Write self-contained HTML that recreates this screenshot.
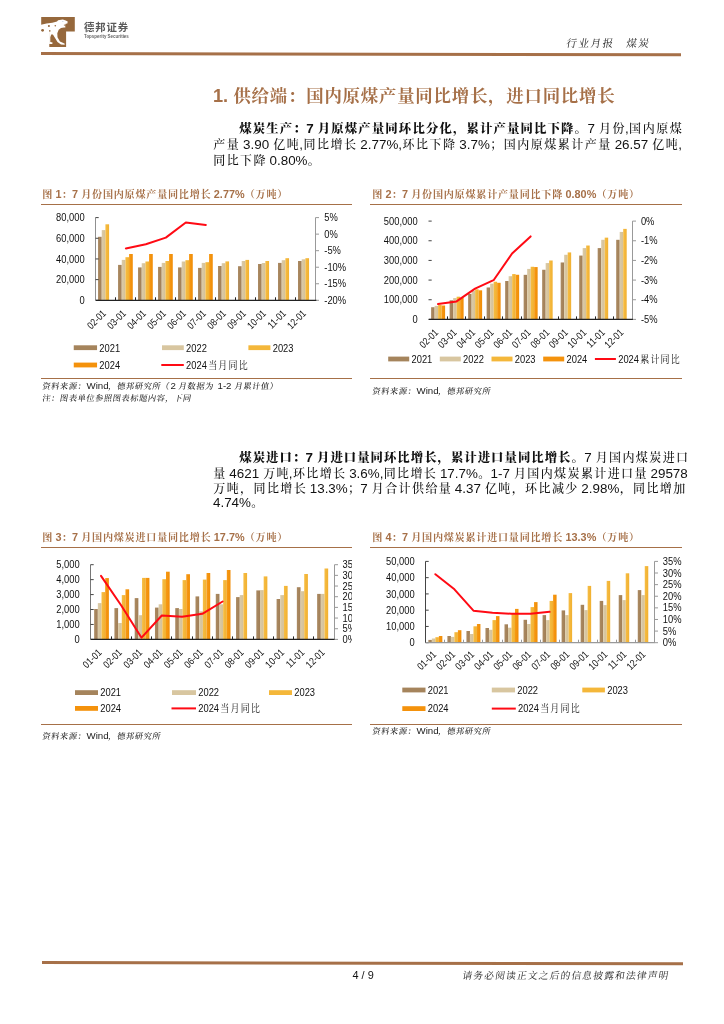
<!DOCTYPE html>
<html lang="zh-CN">
<head>
<meta charset="utf-8">
<title>德邦证券 行业月报 煤炭</title>
<style>
html,body{margin:0;padding:0;background:#fff;}
body{width:724px;height:1024px;position:relative;overflow:hidden;font-family:"Liberation Sans","Noto Serif CJK SC",serif;color:#111;}
.abs{position:absolute;white-space:nowrap;}
.charts{position:absolute;left:0;top:0;}
.logo{position:absolute;left:41px;top:17px;}
.hr{position:absolute;background:#a67048;}
.brand{left:84px;top:20.5px;font-family:"Liberation Sans","Noto Sans CJK SC",sans-serif;font-weight:bold;font-size:10.4px;letter-spacing:0.9px;color:#5a5a5a;line-height:14px;}
.brand2{left:84px;top:34px;font-family:"Liberation Sans",sans-serif;font-size:4.45px;font-weight:bold;color:#666;line-height:6px;letter-spacing:0;}
.hdr{left:566.3px;top:35px;font-size:11.3px;word-spacing:0.75px;line-height:16px;transform:skewX(-9deg);transform-origin:0 70%;color:#222;}
.h1{left:213px;top:84px;font-size:18.2px;font-weight:bold;color:#a67048;line-height:24px;}
.p{left:213px;width:469px;font-size:13.4px;line-height:16px;text-align:justify;text-align-last:justify;color:#111;}
.p.last{text-align:left;text-align-last:left;}
.p b{font-weight:bold;}
.src .k{font-size:8.2px;letter-spacing:0.6px;}
.hdr .k{font-size:10.6px;letter-spacing:1.45px;}
.ft .k{font-size:9.8px;letter-spacing:1.1px;}
.ct .k{font-size:10.1px;letter-spacing:0.75px;margin-left:0.2px;margin-right:-0.55px;}
.h1 .k{font-size:17.4px;letter-spacing:0.8px;margin-left:0.2px;margin-right:-0.6px;}
.p .k{font-weight:500;font-size:12px;letter-spacing:1.4px;position:relative;top:-0.1px;margin-left:0.3px;margin-right:-1.1px;}
.p b .k{font-weight:900;font-size:12.4px;letter-spacing:1px;top:0px;margin-left:0.3px;margin-right:-0.7px;}
.ct{font-size:10.85px;font-weight:bold;color:#a67048;line-height:14px;}
.src{font-size:8.8px;word-spacing:0.9px;line-height:12px;transform:skewX(-9deg);transform-origin:0 70%;font-weight:500;color:#1a1a1a;}
.src i{display:inline-block;transform:skewX(9deg);font-style:normal;font-weight:400;font-size:9.7px;}
.ft{font-size:10.3px;line-height:14px;transform:skewX(-9deg);transform-origin:0 70%;color:#222;}
.pg{font-size:10.9px;line-height:14px;color:#111;}
</style>
</head>
<body>
<svg class="logo" width="36" height="32" viewBox="0 0 36 32">
<path d="M0.2 0h33.6v14.5h-8.7v15.4h-16.8v-15.4h-8.1z" fill="#96683c"/>
<path d="M0 7.8 L5.5 6.4 L11.3 5.8 L16 4.6 L17.1 3.2 L21.8 2.6 L24.7 3.5 L26.7 4.6 L26.4 6.4 L24.7 6.7 L24.1 8.1 L24.4 10.4 L23 10.4 L20 11 L17.7 12.8 L16.3 16.2 L16.5 20.3 L18.9 24.4 L22.3 26.1 L23.8 26.7 L23.5 27.8 L20 27.6 L16.5 25 L13.6 20.3 L11.9 17.4 L10.2 17.4 L9.3 20.3 L9.3 25 L11.6 25.5 L11.3 27 L8.1 27 L8.1 15.2 L-1 15.2 L-1 7.8 Z" fill="#fff"/>
<circle cx="1.6" cy="13.3" r="1.4" fill="#96683c"/>
<circle cx="7.9" cy="9" r="1.05" fill="#96683c"/>
<circle cx="14.3" cy="8.7" r="0.8" fill="#96683c"/>
<circle cx="8.8" cy="13.9" r="0.8" fill="#96683c"/>
<circle cx="23.4" cy="8.1" r="0.6" fill="#96683c"/>
<ellipse cx="21.8" cy="4.5" rx="0.9" ry="0.35" fill="#9bb0c8"/>
</svg>
<div class="abs brand">德邦证券</div>
<div class="abs brand2">Topsperity Securities</div>
<div class="abs hdr"><span class="k">行业月报</span>&nbsp;&nbsp;&nbsp;<span class="k">煤炭</span></div>
<div class="hr" style="left:41px;top:52.3px;width:640.3px;height:2.6px;transform-origin:0 50%;transform:rotate(0.121deg);"></div>

<div class="abs h1">1. <span class="k">供给端：国内原煤产量同比增长，进口同比增长</span></div>

<div class="abs p" style="top:121.1px;left:239px;width:443px;"><b><span class="k">煤炭生产：</span>7 <span class="k">月原煤产量同环比分化，累计产量同比下降。</span></b>7 <span class="k">月份</span>,<span class="k">国内原煤</span></div>
<div class="abs p" style="top:137.0px;"><span class="k">产量</span> 3.90 <span class="k">亿吨</span>,<span class="k">同比增长</span> 2.77%,<span class="k">环比下降</span> 3.7%<span class="k">；国内原煤累计产量</span> 26.57 <span class="k">亿吨</span>,</div>
<div class="abs p last" style="top:152.7px;"><span class="k">同比下降</span> 0.80%<span class="k">。</span></div>

<div class="abs ct" style="left:42px;top:186.5px;"><span class="k">图</span> 1<span class="k">：</span>7 <span class="k">月份国内原煤产量同比增长</span> 2.77%<span class="k">（万吨）</span></div>
<div class="hr" style="left:41px;top:203.7px;width:310.7px;height:1.2px;"></div>
<div class="abs ct" style="left:372px;top:186.5px;"><span class="k">图</span> 2<span class="k">：</span>7 <span class="k">月份国内原煤累计产量同比下降</span> 0.80%<span class="k">（万吨）</span></div>
<div class="hr" style="left:370.2px;top:203.7px;width:311.8px;height:1.2px;"></div>

<div class="hr" style="left:41px;top:378px;width:310.7px;height:1.2px;"></div>
<div class="abs src" style="left:41.5px;top:380px;"><span class="k">资料来源：</span><i>Wind</i><span class="k">，德邦研究所（</span><i>2</i> <span class="k">月数据为</span> <i>1-2</i> <span class="k">月累计值）</span></div>
<div class="abs src" style="left:41.5px;top:391.5px;"><span class="k">注：图表单位参照图表标题内容，下同</span></div>
<div class="hr" style="left:370.2px;top:378px;width:311.8px;height:1.2px;"></div>
<div class="abs src" style="left:372px;top:385px;"><span class="k">资料来源：</span><i>Wind</i><span class="k">，德邦研究所</span></div>

<div class="abs p" style="top:450.1px;left:239px;width:443px;"><b><span class="k">煤炭进口：</span>7 <span class="k">月进口量同环比增长，累计进口量同比增长。</span></b>7 <span class="k">月国内煤炭进口</span></div>
<div class="abs p" style="top:465.9px;"><span class="k">量</span> 4621 <span class="k">万吨</span>,<span class="k">环比增长</span> 3.6%,<span class="k">同比增长</span> 17.7%<span class="k">。</span>1-7 <span class="k">月国内煤炭累计进口量</span> 29578</div>
<div class="abs p" style="top:481.3px;"><span class="k">万吨，同比增长</span> 13.3%<span class="k">；</span>7 <span class="k">月合计供给量</span> 4.37 <span class="k">亿吨，环比减少</span> 2.98%<span class="k">，同比增加</span></div>
<div class="abs p last" style="top:495.4px;">4.74%<span class="k">。</span></div>

<div class="abs ct" style="left:42px;top:530px;"><span class="k">图</span> 3<span class="k">：</span>7 <span class="k">月国内煤炭进口量同比增长</span> 17.7%<span class="k">（万吨）</span></div>
<div class="hr" style="left:41px;top:547.0px;width:310.7px;height:1.3px;"></div>
<div class="abs ct" style="left:372px;top:530px;"><span class="k">图</span> 4<span class="k">：</span>7 <span class="k">月国内煤炭累计进口量同比增长</span> 13.3%<span class="k">（万吨）</span></div>
<div class="hr" style="left:370.2px;top:547.0px;width:311.8px;height:1.3px;"></div>

<div class="hr" style="left:41px;top:723.8px;width:310.7px;height:1.3px;"></div>
<div class="abs src" style="left:41.5px;top:730.3px;"><span class="k">资料来源：</span><i>Wind</i><span class="k">，德邦研究所</span></div>
<div class="hr" style="left:370.2px;top:723.7px;width:311.8px;height:1.3px;"></div>
<div class="abs src" style="left:372px;top:725.4px;"><span class="k">资料来源：</span><i>Wind</i><span class="k">，德邦研究所</span></div>

<svg class="charts" width="724" height="1024" viewBox="0 0 724 1024" font-family="'Liberation Sans', 'Noto Serif CJK SC', sans-serif" fill="#111">
<defs>
<linearGradient id="g0" x1="0" x2="1" y1="0" y2="0"><stop offset="0" stop-color="#ab8a62"/><stop offset="1" stop-color="#a07e56"/></linearGradient>
<linearGradient id="g1" x1="0" x2="1" y1="0" y2="0"><stop offset="0" stop-color="#dccba7"/><stop offset="1" stop-color="#d3c098"/></linearGradient>
<linearGradient id="g2" x1="0" x2="1" y1="0" y2="0"><stop offset="0" stop-color="#f6bd44"/><stop offset="1" stop-color="#f1b030"/></linearGradient>
<linearGradient id="g3" x1="0" x2="1" y1="0" y2="0"><stop offset="0" stop-color="#f79a14"/><stop offset="1" stop-color="#f08c06"/></linearGradient>
<clipPath id="clip3"><rect x="336" y="550" width="15.9" height="100"/></clipPath>
</defs>
<rect x="98.05" y="236.8" width="3.68" height="63.5" fill="url(#g0)"/>
<rect x="101.73" y="230.1" width="3.68" height="70.2" fill="url(#g1)"/>
<rect x="105.41" y="224.3" width="3.68" height="76" fill="url(#g2)"/>
<rect x="118.05" y="264.9" width="3.68" height="35.4" fill="url(#g0)"/>
<rect x="121.73" y="259.9" width="3.68" height="40.4" fill="url(#g1)"/>
<rect x="125.41" y="257.2" width="3.68" height="43.1" fill="url(#g2)"/>
<rect x="129.09" y="254" width="3.68" height="46.3" fill="url(#g3)"/>
<rect x="138.04" y="267.4" width="3.68" height="32.9" fill="url(#g0)"/>
<rect x="141.72" y="263.2" width="3.68" height="37.1" fill="url(#g1)"/>
<rect x="145.4" y="261.5" width="3.68" height="38.8" fill="url(#g2)"/>
<rect x="149.08" y="254" width="3.68" height="46.3" fill="url(#g3)"/>
<rect x="158.04" y="266.9" width="3.68" height="33.4" fill="url(#g0)"/>
<rect x="161.72" y="262.9" width="3.68" height="37.4" fill="url(#g1)"/>
<rect x="165.4" y="261" width="3.68" height="39.3" fill="url(#g2)"/>
<rect x="169.08" y="254" width="3.68" height="46.3" fill="url(#g3)"/>
<rect x="178.03" y="267.4" width="3.68" height="32.9" fill="url(#g0)"/>
<rect x="181.71" y="261.5" width="3.68" height="38.8" fill="url(#g1)"/>
<rect x="185.39" y="260.2" width="3.68" height="40.1" fill="url(#g2)"/>
<rect x="189.07" y="254" width="3.68" height="46.3" fill="url(#g3)"/>
<rect x="198.03" y="267.9" width="3.68" height="32.4" fill="url(#g0)"/>
<rect x="201.71" y="262.9" width="3.68" height="37.4" fill="url(#g1)"/>
<rect x="205.39" y="262.2" width="3.68" height="38.1" fill="url(#g2)"/>
<rect x="209.07" y="254" width="3.68" height="46.3" fill="url(#g3)"/>
<rect x="218.02" y="266" width="3.68" height="34.3" fill="url(#g0)"/>
<rect x="221.7" y="263.2" width="3.68" height="37.1" fill="url(#g1)"/>
<rect x="225.38" y="261.4" width="3.68" height="38.9" fill="url(#g2)"/>
<rect x="238.02" y="266.2" width="3.68" height="34.1" fill="url(#g0)"/>
<rect x="241.7" y="261" width="3.68" height="39.3" fill="url(#g1)"/>
<rect x="245.38" y="259.9" width="3.68" height="40.4" fill="url(#g2)"/>
<rect x="258.01" y="264" width="3.68" height="36.3" fill="url(#g0)"/>
<rect x="261.69" y="263" width="3.68" height="37.3" fill="url(#g1)"/>
<rect x="265.37" y="261" width="3.68" height="39.3" fill="url(#g2)"/>
<rect x="278.01" y="262.9" width="3.68" height="37.4" fill="url(#g0)"/>
<rect x="281.69" y="260.2" width="3.68" height="40.1" fill="url(#g1)"/>
<rect x="285.37" y="258.2" width="3.68" height="42.1" fill="url(#g2)"/>
<rect x="298" y="261" width="3.68" height="39.3" fill="url(#g0)"/>
<rect x="301.68" y="259.3" width="3.68" height="41" fill="url(#g1)"/>
<rect x="305.36" y="258.2" width="3.68" height="42.1" fill="url(#g2)"/>
<line x1="95.5" y1="217.6" x2="95.5" y2="300.3" stroke="#909090" stroke-width="1"/>
<line x1="315.5" y1="217.6" x2="315.5" y2="300.3" stroke="#999" stroke-width="1"/>
<line x1="95.5" y1="217.6" x2="98.7" y2="217.6" stroke="#444" stroke-width="1"/>
<text transform="translate(84.65 221.2) scale(0.85 1)" text-anchor="end" font-size="11">80,000</text>
<line x1="95.5" y1="238.28" x2="98.7" y2="238.28" stroke="#444" stroke-width="1"/>
<text transform="translate(84.65 241.88) scale(0.85 1)" text-anchor="end" font-size="11">60,000</text>
<line x1="95.5" y1="258.95" x2="98.7" y2="258.95" stroke="#444" stroke-width="1"/>
<text transform="translate(84.65 262.55) scale(0.85 1)" text-anchor="end" font-size="11">40,000</text>
<line x1="95.5" y1="279.62" x2="98.7" y2="279.62" stroke="#444" stroke-width="1"/>
<text transform="translate(84.65 283.23) scale(0.85 1)" text-anchor="end" font-size="11">20,000</text>
<line x1="95.5" y1="300.3" x2="98.7" y2="300.3" stroke="#444" stroke-width="1"/>
<text transform="translate(84.65 303.9) scale(0.85 1)" text-anchor="end" font-size="11">0</text>
<line x1="315.5" y1="217.6" x2="319" y2="217.6" stroke="#999" stroke-width="1"/>
<line x1="315.5" y1="234.14" x2="319" y2="234.14" stroke="#999" stroke-width="1"/>
<line x1="315.5" y1="250.68" x2="319" y2="250.68" stroke="#999" stroke-width="1"/>
<line x1="315.5" y1="267.22" x2="319" y2="267.22" stroke="#999" stroke-width="1"/>
<line x1="315.5" y1="283.76" x2="319" y2="283.76" stroke="#999" stroke-width="1"/>
<line x1="315.5" y1="300.3" x2="319" y2="300.3" stroke="#999" stroke-width="1"/>
<text transform="translate(324.3 221.2) scale(0.85 1)" text-anchor="start" font-size="11">5%</text>
<text transform="translate(324.3 237.74) scale(0.85 1)" text-anchor="start" font-size="11">0%</text>
<text transform="translate(324.3 254.28) scale(0.85 1)" text-anchor="start" font-size="11">-5%</text>
<text transform="translate(324.3 270.82) scale(0.85 1)" text-anchor="start" font-size="11">-10%</text>
<text transform="translate(324.3 287.36) scale(0.85 1)" text-anchor="start" font-size="11">-15%</text>
<text transform="translate(324.3 303.9) scale(0.85 1)" text-anchor="start" font-size="11">-20%</text>
<line x1="95.85" y1="300.3" x2="316.3" y2="300.3" stroke="#222" stroke-width="1.2"/>
<line x1="115.5" y1="297.3" x2="115.5" y2="300.3" stroke="#222" stroke-width="1"/>
<line x1="135.5" y1="297.3" x2="135.5" y2="300.3" stroke="#222" stroke-width="1"/>
<line x1="155.5" y1="297.3" x2="155.5" y2="300.3" stroke="#222" stroke-width="1"/>
<line x1="175.5" y1="297.3" x2="175.5" y2="300.3" stroke="#222" stroke-width="1"/>
<line x1="195.5" y1="297.3" x2="195.5" y2="300.3" stroke="#222" stroke-width="1"/>
<line x1="215.5" y1="297.3" x2="215.5" y2="300.3" stroke="#222" stroke-width="1"/>
<line x1="235.5" y1="297.3" x2="235.5" y2="300.3" stroke="#222" stroke-width="1"/>
<line x1="255.5" y1="297.3" x2="255.5" y2="300.3" stroke="#222" stroke-width="1"/>
<line x1="275.5" y1="297.3" x2="275.5" y2="300.3" stroke="#222" stroke-width="1"/>
<line x1="295.5" y1="297.3" x2="295.5" y2="300.3" stroke="#222" stroke-width="1"/>
<text transform="translate(106.75 314.1) rotate(-45) scale(0.85 1)" text-anchor="end" font-size="10.12">02-01</text>
<text transform="translate(126.74 314.1) rotate(-45) scale(0.85 1)" text-anchor="end" font-size="10.12">03-01</text>
<text transform="translate(146.74 314.1) rotate(-45) scale(0.85 1)" text-anchor="end" font-size="10.12">04-01</text>
<text transform="translate(166.73 314.1) rotate(-45) scale(0.85 1)" text-anchor="end" font-size="10.12">05-01</text>
<text transform="translate(186.73 314.1) rotate(-45) scale(0.85 1)" text-anchor="end" font-size="10.12">06-01</text>
<text transform="translate(206.72 314.1) rotate(-45) scale(0.85 1)" text-anchor="end" font-size="10.12">07-01</text>
<text transform="translate(226.72 314.1) rotate(-45) scale(0.85 1)" text-anchor="end" font-size="10.12">08-01</text>
<text transform="translate(246.72 314.1) rotate(-45) scale(0.85 1)" text-anchor="end" font-size="10.12">09-01</text>
<text transform="translate(266.71 314.1) rotate(-45) scale(0.85 1)" text-anchor="end" font-size="10.12">10-01</text>
<text transform="translate(286.71 314.1) rotate(-45) scale(0.85 1)" text-anchor="end" font-size="10.12">11-01</text>
<text transform="translate(306.7 314.1) rotate(-45) scale(0.85 1)" text-anchor="end" font-size="10.12">12-01</text>
<polyline points="125.84,248.4 145.84,244.3 165.83,237.6 185.83,222.5 205.82,225" fill="none" stroke="#ff0a14" stroke-width="2" stroke-linejoin="round" stroke-linecap="round"/>
<rect x="73.75" y="345.3" width="23.3" height="4.8" fill="#a5845c"/>
<text transform="translate(99.35 351.5) scale(0.85 1)" text-anchor="start" font-size="11">2021</text>
<rect x="162" y="345.3" width="21.8" height="4.8" fill="#d8c6a0"/>
<text transform="translate(186.1 351.5) scale(0.85 1)" text-anchor="start" font-size="11">2022</text>
<rect x="248.4" y="345.3" width="22" height="4.8" fill="#f4b73a"/>
<text transform="translate(272.7 351.5) scale(0.85 1)" text-anchor="start" font-size="11">2023</text><rect x="73.75" y="362.6" width="23.3" height="4.8" fill="#f4920c"/>
<text transform="translate(99.35 368.8) scale(0.85 1)" text-anchor="start" font-size="11">2024</text>
<line x1="161.3" y1="365" x2="183.8" y2="365" stroke="#ff0a14" stroke-width="2"/>
<text transform="translate(186.1 368.8) scale(0.85 1)" text-anchor="start" font-size="11">2024<tspan class="k" font-size="10.6" dx="1.5" letter-spacing="1.4">当月同比</tspan></text>
<rect x="431.1" y="307.23" width="3.5" height="12.17" fill="url(#g0)"/>
<rect x="434.6" y="305.87" width="3.5" height="13.53" fill="url(#g1)"/>
<rect x="438.1" y="304.94" width="3.5" height="14.46" fill="url(#g2)"/>
<rect x="441.6" y="305.51" width="3.5" height="13.89" fill="url(#g3)"/>
<rect x="449.61" y="300.28" width="3.5" height="19.12" fill="url(#g0)"/>
<rect x="453.11" y="298.05" width="3.5" height="21.35" fill="url(#g1)"/>
<rect x="456.61" y="296.69" width="3.5" height="22.71" fill="url(#g2)"/>
<rect x="460.11" y="297.61" width="3.5" height="21.79" fill="url(#g3)"/>
<rect x="468.12" y="293.94" width="3.5" height="25.46" fill="url(#g0)"/>
<rect x="471.62" y="290.88" width="3.5" height="28.52" fill="url(#g1)"/>
<rect x="475.12" y="289.32" width="3.5" height="30.08" fill="url(#g2)"/>
<rect x="478.62" y="290.33" width="3.5" height="29.07" fill="url(#g3)"/>
<rect x="486.63" y="287.47" width="3.5" height="31.93" fill="url(#g0)"/>
<rect x="490.13" y="283.66" width="3.5" height="35.74" fill="url(#g1)"/>
<rect x="493.63" y="281.74" width="3.5" height="37.66" fill="url(#g2)"/>
<rect x="497.13" y="282.8" width="3.5" height="36.6" fill="url(#g3)"/>
<rect x="505.14" y="281.01" width="3.5" height="38.39" fill="url(#g0)"/>
<rect x="508.64" y="276.19" width="3.5" height="43.21" fill="url(#g1)"/>
<rect x="512.14" y="274.08" width="3.5" height="45.32" fill="url(#g2)"/>
<rect x="515.64" y="274.77" width="3.5" height="44.63" fill="url(#g3)"/>
<rect x="523.65" y="274.84" width="3.5" height="44.56" fill="url(#g0)"/>
<rect x="527.15" y="268.92" width="3.5" height="50.48" fill="url(#g1)"/>
<rect x="530.65" y="266.77" width="3.5" height="52.63" fill="url(#g2)"/>
<rect x="534.15" y="267.06" width="3.5" height="52.34" fill="url(#g3)"/>
<rect x="542.15" y="269.76" width="3.5" height="49.64" fill="url(#g0)"/>
<rect x="545.65" y="263.06" width="3.5" height="56.34" fill="url(#g1)"/>
<rect x="549.15" y="260.5" width="3.5" height="58.9" fill="url(#g2)"/>
<rect x="560.66" y="262.47" width="3.5" height="56.93" fill="url(#g0)"/>
<rect x="564.16" y="254.78" width="3.5" height="64.62" fill="url(#g1)"/>
<rect x="567.66" y="252.42" width="3.5" height="66.98" fill="url(#g2)"/>
<rect x="579.17" y="255.57" width="3.5" height="63.83" fill="url(#g0)"/>
<rect x="582.67" y="248.09" width="3.5" height="71.31" fill="url(#g1)"/>
<rect x="586.17" y="245.52" width="3.5" height="73.88" fill="url(#g2)"/>
<rect x="597.68" y="248.09" width="3.5" height="71.31" fill="url(#g0)"/>
<rect x="601.18" y="239.81" width="3.5" height="79.59" fill="url(#g1)"/>
<rect x="604.68" y="237.64" width="3.5" height="81.75" fill="url(#g2)"/>
<rect x="616.19" y="239.81" width="3.5" height="79.59" fill="url(#g0)"/>
<rect x="619.69" y="231.93" width="3.5" height="87.47" fill="url(#g1)"/>
<rect x="623.19" y="228.88" width="3.5" height="90.52" fill="url(#g2)"/>
<line x1="632.5" y1="221.1" x2="632.5" y2="319.4" stroke="#999" stroke-width="1"/>
<line x1="428.5" y1="221.1" x2="431.7" y2="221.1" stroke="#444" stroke-width="1"/>
<text transform="translate(417.6 224.7) scale(0.85 1)" text-anchor="end" font-size="11">500,000</text>
<line x1="428.5" y1="240.76" x2="431.7" y2="240.76" stroke="#444" stroke-width="1"/>
<text transform="translate(417.6 244.36) scale(0.85 1)" text-anchor="end" font-size="11">400,000</text>
<line x1="428.5" y1="260.42" x2="431.7" y2="260.42" stroke="#444" stroke-width="1"/>
<text transform="translate(417.6 264.02) scale(0.85 1)" text-anchor="end" font-size="11">300,000</text>
<line x1="428.5" y1="280.08" x2="431.7" y2="280.08" stroke="#444" stroke-width="1"/>
<text transform="translate(417.6 283.68) scale(0.85 1)" text-anchor="end" font-size="11">200,000</text>
<line x1="428.5" y1="299.74" x2="431.7" y2="299.74" stroke="#444" stroke-width="1"/>
<text transform="translate(417.6 303.34) scale(0.85 1)" text-anchor="end" font-size="11">100,000</text>
<line x1="428.5" y1="319.4" x2="431.7" y2="319.4" stroke="#444" stroke-width="1"/>
<text transform="translate(417.6 323) scale(0.85 1)" text-anchor="end" font-size="11">0</text>
<line x1="632.5" y1="221.1" x2="636" y2="221.1" stroke="#999" stroke-width="1"/>
<line x1="632.5" y1="240.76" x2="636" y2="240.76" stroke="#999" stroke-width="1"/>
<line x1="632.5" y1="260.42" x2="636" y2="260.42" stroke="#999" stroke-width="1"/>
<line x1="632.5" y1="280.08" x2="636" y2="280.08" stroke="#999" stroke-width="1"/>
<line x1="632.5" y1="299.74" x2="636" y2="299.74" stroke="#999" stroke-width="1"/>
<line x1="632.5" y1="319.4" x2="636" y2="319.4" stroke="#999" stroke-width="1"/>
<text transform="translate(640.9 224.7) scale(0.85 1)" text-anchor="start" font-size="11">0%</text>
<text transform="translate(640.9 244.36) scale(0.85 1)" text-anchor="start" font-size="11">-1%</text>
<text transform="translate(640.9 264.02) scale(0.85 1)" text-anchor="start" font-size="11">-2%</text>
<text transform="translate(640.9 283.68) scale(0.85 1)" text-anchor="start" font-size="11">-3%</text>
<text transform="translate(640.9 303.34) scale(0.85 1)" text-anchor="start" font-size="11">-4%</text>
<text transform="translate(640.9 323) scale(0.85 1)" text-anchor="start" font-size="11">-5%</text>
<line x1="428.8" y1="319.4" x2="632.9" y2="319.4" stroke="#222" stroke-width="1.2"/>
<line x1="447.5" y1="316.4" x2="447.5" y2="319.4" stroke="#222" stroke-width="1"/>
<line x1="465.5" y1="316.4" x2="465.5" y2="319.4" stroke="#222" stroke-width="1"/>
<line x1="484.5" y1="316.4" x2="484.5" y2="319.4" stroke="#222" stroke-width="1"/>
<line x1="502.5" y1="316.4" x2="502.5" y2="319.4" stroke="#222" stroke-width="1"/>
<line x1="521.5" y1="316.4" x2="521.5" y2="319.4" stroke="#222" stroke-width="1"/>
<line x1="539.5" y1="316.4" x2="539.5" y2="319.4" stroke="#222" stroke-width="1"/>
<line x1="558.5" y1="316.4" x2="558.5" y2="319.4" stroke="#222" stroke-width="1"/>
<line x1="576.5" y1="316.4" x2="576.5" y2="319.4" stroke="#222" stroke-width="1"/>
<line x1="595.5" y1="316.4" x2="595.5" y2="319.4" stroke="#222" stroke-width="1"/>
<line x1="613.5" y1="316.4" x2="613.5" y2="319.4" stroke="#222" stroke-width="1"/>
<text transform="translate(438.95 333.2) rotate(-45) scale(0.85 1)" text-anchor="end" font-size="10.12">02-01</text>
<text transform="translate(457.46 333.2) rotate(-45) scale(0.85 1)" text-anchor="end" font-size="10.12">03-01</text>
<text transform="translate(475.97 333.2) rotate(-45) scale(0.85 1)" text-anchor="end" font-size="10.12">04-01</text>
<text transform="translate(494.48 333.2) rotate(-45) scale(0.85 1)" text-anchor="end" font-size="10.12">05-01</text>
<text transform="translate(512.99 333.2) rotate(-45) scale(0.85 1)" text-anchor="end" font-size="10.12">06-01</text>
<text transform="translate(531.5 333.2) rotate(-45) scale(0.85 1)" text-anchor="end" font-size="10.12">07-01</text>
<text transform="translate(550.01 333.2) rotate(-45) scale(0.85 1)" text-anchor="end" font-size="10.12">08-01</text>
<text transform="translate(568.52 333.2) rotate(-45) scale(0.85 1)" text-anchor="end" font-size="10.12">09-01</text>
<text transform="translate(587.03 333.2) rotate(-45) scale(0.85 1)" text-anchor="end" font-size="10.12">10-01</text>
<text transform="translate(605.54 333.2) rotate(-45) scale(0.85 1)" text-anchor="end" font-size="10.12">11-01</text>
<text transform="translate(624.05 333.2) rotate(-45) scale(0.85 1)" text-anchor="end" font-size="10.12">12-01</text>
<polyline points="438.05,304 456.56,301.4 475.07,288.6 493.58,280.2 512.09,253.5 530.6,236.4" fill="none" stroke="#ff0a14" stroke-width="2" stroke-linejoin="round" stroke-linecap="round"/>
<rect x="388.2" y="356.6" width="21" height="4.8" fill="#a5845c"/>
<text transform="translate(411.5 362.8) scale(0.85 1)" text-anchor="start" font-size="11">2021</text>
<rect x="439.8" y="356.6" width="21" height="4.8" fill="#d8c6a0"/>
<text transform="translate(463.1 362.8) scale(0.85 1)" text-anchor="start" font-size="11">2022</text>
<rect x="491.5" y="356.6" width="21" height="4.8" fill="#f4b73a"/>
<text transform="translate(514.8 362.8) scale(0.85 1)" text-anchor="start" font-size="11">2023</text>
<rect x="543.2" y="356.6" width="21" height="4.8" fill="#f4920c"/>
<text transform="translate(566.5 362.8) scale(0.85 1)" text-anchor="start" font-size="11">2024</text>
<line x1="594.9" y1="359" x2="615.9" y2="359" stroke="#ff0a14" stroke-width="2"/>
<text transform="translate(618.2 362.8) scale(0.85 1)" text-anchor="start" font-size="11">2024<tspan class="k" font-size="10.6" dx="1.5" letter-spacing="1.4">累计同比</tspan></text>
<rect x="94.15" y="609" width="3.68" height="30.4" fill="url(#g0)"/>
<rect x="97.83" y="603.1" width="3.68" height="36.3" fill="url(#g1)"/>
<rect x="101.51" y="592.1" width="3.68" height="47.3" fill="url(#g2)"/>
<rect x="105.19" y="578.1" width="3.68" height="61.3" fill="url(#g3)"/>
<rect x="114.42" y="608.1" width="3.68" height="31.3" fill="url(#g0)"/>
<rect x="118.1" y="623" width="3.68" height="16.4" fill="url(#g1)"/>
<rect x="121.78" y="595.1" width="3.68" height="44.3" fill="url(#g2)"/>
<rect x="125.46" y="589.3" width="3.68" height="50.1" fill="url(#g3)"/>
<rect x="134.69" y="598.1" width="3.68" height="41.3" fill="url(#g0)"/>
<rect x="138.37" y="615.2" width="3.68" height="24.2" fill="url(#g1)"/>
<rect x="142.05" y="577.9" width="3.68" height="61.5" fill="url(#g2)"/>
<rect x="145.73" y="577.9" width="3.68" height="61.5" fill="url(#g3)"/>
<rect x="154.96" y="607.6" width="3.68" height="31.8" fill="url(#g0)"/>
<rect x="158.64" y="604.3" width="3.68" height="35.1" fill="url(#g1)"/>
<rect x="162.32" y="579.2" width="3.68" height="60.2" fill="url(#g2)"/>
<rect x="166" y="571.7" width="3.68" height="67.7" fill="url(#g3)"/>
<rect x="175.23" y="608.1" width="3.68" height="31.3" fill="url(#g0)"/>
<rect x="178.91" y="609" width="3.68" height="30.4" fill="url(#g1)"/>
<rect x="182.59" y="580.1" width="3.68" height="59.3" fill="url(#g2)"/>
<rect x="186.27" y="574.2" width="3.68" height="65.2" fill="url(#g3)"/>
<rect x="195.5" y="596.4" width="3.68" height="43" fill="url(#g0)"/>
<rect x="199.18" y="611.3" width="3.68" height="28.1" fill="url(#g1)"/>
<rect x="202.86" y="579.6" width="3.68" height="59.8" fill="url(#g2)"/>
<rect x="206.54" y="573" width="3.68" height="66.4" fill="url(#g3)"/>
<rect x="215.78" y="593.9" width="3.68" height="45.5" fill="url(#g0)"/>
<rect x="219.46" y="604.3" width="3.68" height="35.1" fill="url(#g1)"/>
<rect x="223.14" y="580.1" width="3.68" height="59.3" fill="url(#g2)"/>
<rect x="226.82" y="570" width="3.68" height="69.4" fill="url(#g3)"/>
<rect x="236.05" y="597.1" width="3.68" height="42.3" fill="url(#g0)"/>
<rect x="239.73" y="595.1" width="3.68" height="44.3" fill="url(#g1)"/>
<rect x="243.41" y="573" width="3.68" height="66.4" fill="url(#g2)"/>
<rect x="256.32" y="590.4" width="3.68" height="49" fill="url(#g0)"/>
<rect x="260" y="590.1" width="3.68" height="49.3" fill="url(#g1)"/>
<rect x="263.68" y="576.4" width="3.68" height="63" fill="url(#g2)"/>
<rect x="276.59" y="599" width="3.68" height="40.4" fill="url(#g0)"/>
<rect x="280.27" y="595.1" width="3.68" height="44.3" fill="url(#g1)"/>
<rect x="283.95" y="585.9" width="3.68" height="53.5" fill="url(#g2)"/>
<rect x="296.86" y="587.2" width="3.68" height="52.2" fill="url(#g0)"/>
<rect x="300.54" y="591.2" width="3.68" height="48.2" fill="url(#g1)"/>
<rect x="304.22" y="574" width="3.68" height="65.4" fill="url(#g2)"/>
<rect x="317.13" y="593.9" width="3.68" height="45.5" fill="url(#g0)"/>
<rect x="320.81" y="593.9" width="3.68" height="45.5" fill="url(#g1)"/>
<rect x="324.49" y="568.5" width="3.68" height="70.9" fill="url(#g2)"/>
<line x1="90.5" y1="564.7" x2="90.5" y2="639.4" stroke="#777" stroke-width="1"/>
<line x1="334.5" y1="564.7" x2="334.5" y2="639.4" stroke="#999" stroke-width="1"/>
<line x1="90.5" y1="564.7" x2="93.7" y2="564.7" stroke="#444" stroke-width="1"/>
<text transform="translate(79.65 568.3) scale(0.85 1)" text-anchor="end" font-size="11">5,000</text>
<line x1="90.5" y1="579.64" x2="93.7" y2="579.64" stroke="#444" stroke-width="1"/>
<text transform="translate(79.65 583.24) scale(0.85 1)" text-anchor="end" font-size="11">4,000</text>
<line x1="90.5" y1="594.58" x2="93.7" y2="594.58" stroke="#444" stroke-width="1"/>
<text transform="translate(79.65 598.18) scale(0.85 1)" text-anchor="end" font-size="11">3,000</text>
<line x1="90.5" y1="609.52" x2="93.7" y2="609.52" stroke="#444" stroke-width="1"/>
<text transform="translate(79.65 613.12) scale(0.85 1)" text-anchor="end" font-size="11">2,000</text>
<line x1="90.5" y1="624.46" x2="93.7" y2="624.46" stroke="#444" stroke-width="1"/>
<text transform="translate(79.65 628.06) scale(0.85 1)" text-anchor="end" font-size="11">1,000</text>
<line x1="90.5" y1="639.4" x2="93.7" y2="639.4" stroke="#444" stroke-width="1"/>
<text transform="translate(79.65 643) scale(0.85 1)" text-anchor="end" font-size="11">0</text>
<line x1="334.5" y1="564.7" x2="338" y2="564.7" stroke="#999" stroke-width="1"/>
<line x1="334.5" y1="575.37" x2="338" y2="575.37" stroke="#999" stroke-width="1"/>
<line x1="334.5" y1="586.04" x2="338" y2="586.04" stroke="#999" stroke-width="1"/>
<line x1="334.5" y1="596.71" x2="338" y2="596.71" stroke="#999" stroke-width="1"/>
<line x1="334.5" y1="607.39" x2="338" y2="607.39" stroke="#999" stroke-width="1"/>
<line x1="334.5" y1="618.06" x2="338" y2="618.06" stroke="#999" stroke-width="1"/>
<line x1="334.5" y1="628.73" x2="338" y2="628.73" stroke="#999" stroke-width="1"/>
<line x1="334.5" y1="639.4" x2="338" y2="639.4" stroke="#999" stroke-width="1"/>
<g clip-path="url(#clip3)"><text transform="translate(342.6 568.3) scale(0.85 1)" text-anchor="start" font-size="11">35%</text><text transform="translate(342.6 578.97) scale(0.85 1)" text-anchor="start" font-size="11">30%</text><text transform="translate(342.6 589.64) scale(0.85 1)" text-anchor="start" font-size="11">25%</text><text transform="translate(342.6 600.31) scale(0.85 1)" text-anchor="start" font-size="11">20%</text><text transform="translate(342.6 610.99) scale(0.85 1)" text-anchor="start" font-size="11">15%</text><text transform="translate(342.6 621.66) scale(0.85 1)" text-anchor="start" font-size="11">10%</text><text transform="translate(342.6 632.33) scale(0.85 1)" text-anchor="start" font-size="11">5%</text><text transform="translate(342.6 643) scale(0.85 1)" text-anchor="start" font-size="11">0%</text></g>
<line x1="90.85" y1="639.4" x2="334.6" y2="639.4" stroke="#222" stroke-width="1.2"/>
<line x1="111.5" y1="636.4" x2="111.5" y2="639.4" stroke="#222" stroke-width="1"/>
<line x1="131.5" y1="636.4" x2="131.5" y2="639.4" stroke="#222" stroke-width="1"/>
<line x1="151.5" y1="636.4" x2="151.5" y2="639.4" stroke="#222" stroke-width="1"/>
<line x1="171.5" y1="636.4" x2="171.5" y2="639.4" stroke="#222" stroke-width="1"/>
<line x1="192.5" y1="636.4" x2="192.5" y2="639.4" stroke="#222" stroke-width="1"/>
<line x1="212.5" y1="636.4" x2="212.5" y2="639.4" stroke="#222" stroke-width="1"/>
<line x1="232.5" y1="636.4" x2="232.5" y2="639.4" stroke="#222" stroke-width="1"/>
<line x1="253.5" y1="636.4" x2="253.5" y2="639.4" stroke="#222" stroke-width="1"/>
<line x1="273.5" y1="636.4" x2="273.5" y2="639.4" stroke="#222" stroke-width="1"/>
<line x1="293.5" y1="636.4" x2="293.5" y2="639.4" stroke="#222" stroke-width="1"/>
<line x1="313.5" y1="636.4" x2="313.5" y2="639.4" stroke="#222" stroke-width="1"/>
<text transform="translate(102.39 653.2) rotate(-45) scale(0.85 1)" text-anchor="end" font-size="10.12">01-01</text>
<text transform="translate(122.66 653.2) rotate(-45) scale(0.85 1)" text-anchor="end" font-size="10.12">02-01</text>
<text transform="translate(142.93 653.2) rotate(-45) scale(0.85 1)" text-anchor="end" font-size="10.12">03-01</text>
<text transform="translate(163.2 653.2) rotate(-45) scale(0.85 1)" text-anchor="end" font-size="10.12">04-01</text>
<text transform="translate(183.47 653.2) rotate(-45) scale(0.85 1)" text-anchor="end" font-size="10.12">05-01</text>
<text transform="translate(203.74 653.2) rotate(-45) scale(0.85 1)" text-anchor="end" font-size="10.12">06-01</text>
<text transform="translate(224.01 653.2) rotate(-45) scale(0.85 1)" text-anchor="end" font-size="10.12">07-01</text>
<text transform="translate(244.28 653.2) rotate(-45) scale(0.85 1)" text-anchor="end" font-size="10.12">08-01</text>
<text transform="translate(264.55 653.2) rotate(-45) scale(0.85 1)" text-anchor="end" font-size="10.12">09-01</text>
<text transform="translate(284.82 653.2) rotate(-45) scale(0.85 1)" text-anchor="end" font-size="10.12">10-01</text>
<text transform="translate(305.09 653.2) rotate(-45) scale(0.85 1)" text-anchor="end" font-size="10.12">11-01</text>
<text transform="translate(325.36 653.2) rotate(-45) scale(0.85 1)" text-anchor="end" font-size="10.12">12-01</text>
<polyline points="100.99,575.9 121.26,605.5 141.53,637.7 161.8,615.5 182.07,616.8 202.34,613.8 222.61,601.5" fill="none" stroke="#ff0a14" stroke-width="2" stroke-linejoin="round" stroke-linecap="round"/>
<rect x="75" y="690.2" width="23" height="4.8" fill="#a5845c"/>
<text transform="translate(100.3 696.4) scale(0.85 1)" text-anchor="start" font-size="11">2021</text>
<rect x="172" y="690.2" width="24" height="4.8" fill="#d8c6a0"/>
<text transform="translate(198.3 696.4) scale(0.85 1)" text-anchor="start" font-size="11">2022</text>
<rect x="269" y="690.2" width="23" height="4.8" fill="#f4b73a"/>
<text transform="translate(294.3 696.4) scale(0.85 1)" text-anchor="start" font-size="11">2023</text><rect x="75" y="706" width="23" height="4.8" fill="#f4920c"/>
<text transform="translate(100.3 712.2) scale(0.85 1)" text-anchor="start" font-size="11">2024</text>
<line x1="171.5" y1="708.4" x2="196" y2="708.4" stroke="#ff0a14" stroke-width="2"/>
<text transform="translate(198.3 712.2) scale(0.85 1)" text-anchor="start" font-size="11">2024<tspan class="k" font-size="10.6" dx="1.5" letter-spacing="1.4">当月同比</tspan></text>
<rect x="428.35" y="639.9" width="3.5" height="2.8" fill="url(#g0)"/>
<rect x="431.85" y="638.5" width="3.5" height="4.2" fill="url(#g1)"/>
<rect x="435.35" y="637.2" width="3.5" height="5.5" fill="url(#g2)"/>
<rect x="438.85" y="636" width="3.5" height="6.7" fill="url(#g3)"/>
<rect x="447.39" y="636" width="3.5" height="6.7" fill="url(#g0)"/>
<rect x="450.89" y="636.9" width="3.5" height="5.8" fill="url(#g1)"/>
<rect x="454.39" y="632.2" width="3.5" height="10.5" fill="url(#g2)"/>
<rect x="457.89" y="630.2" width="3.5" height="12.5" fill="url(#g3)"/>
<rect x="466.43" y="631" width="3.5" height="11.7" fill="url(#g0)"/>
<rect x="469.93" y="634" width="3.5" height="8.7" fill="url(#g1)"/>
<rect x="473.43" y="626.3" width="3.5" height="16.4" fill="url(#g2)"/>
<rect x="476.93" y="624" width="3.5" height="18.7" fill="url(#g3)"/>
<rect x="485.46" y="628" width="3.5" height="14.7" fill="url(#g0)"/>
<rect x="488.96" y="629.8" width="3.5" height="12.9" fill="url(#g1)"/>
<rect x="492.46" y="620.1" width="3.5" height="22.6" fill="url(#g2)"/>
<rect x="495.96" y="616.1" width="3.5" height="26.6" fill="url(#g3)"/>
<rect x="504.5" y="624.3" width="3.5" height="18.4" fill="url(#g0)"/>
<rect x="508" y="627.7" width="3.5" height="15" fill="url(#g1)"/>
<rect x="511.5" y="613.5" width="3.5" height="29.2" fill="url(#g2)"/>
<rect x="515" y="608.9" width="3.5" height="33.8" fill="url(#g3)"/>
<rect x="523.54" y="619.8" width="3.5" height="22.9" fill="url(#g0)"/>
<rect x="527.04" y="624" width="3.5" height="18.7" fill="url(#g1)"/>
<rect x="530.54" y="607.1" width="3.5" height="35.6" fill="url(#g2)"/>
<rect x="534.04" y="602.1" width="3.5" height="40.6" fill="url(#g3)"/>
<rect x="542.58" y="615.1" width="3.5" height="27.6" fill="url(#g0)"/>
<rect x="546.08" y="620.1" width="3.5" height="22.6" fill="url(#g1)"/>
<rect x="549.58" y="600.9" width="3.5" height="41.8" fill="url(#g2)"/>
<rect x="553.08" y="594.7" width="3.5" height="48" fill="url(#g3)"/>
<rect x="561.61" y="610.4" width="3.5" height="32.3" fill="url(#g0)"/>
<rect x="565.11" y="615.1" width="3.5" height="27.6" fill="url(#g1)"/>
<rect x="568.61" y="593.1" width="3.5" height="49.6" fill="url(#g2)"/>
<rect x="580.65" y="604.8" width="3.5" height="37.9" fill="url(#g0)"/>
<rect x="584.15" y="610.1" width="3.5" height="32.6" fill="url(#g1)"/>
<rect x="587.65" y="585.9" width="3.5" height="56.8" fill="url(#g2)"/>
<rect x="599.69" y="600.9" width="3.5" height="41.8" fill="url(#g0)"/>
<rect x="603.19" y="605.1" width="3.5" height="37.6" fill="url(#g1)"/>
<rect x="606.69" y="580.9" width="3.5" height="61.8" fill="url(#g2)"/>
<rect x="618.72" y="595.1" width="3.5" height="47.6" fill="url(#g0)"/>
<rect x="622.22" y="600.1" width="3.5" height="42.6" fill="url(#g1)"/>
<rect x="625.72" y="573.3" width="3.5" height="69.4" fill="url(#g2)"/>
<rect x="637.76" y="590.1" width="3.5" height="52.6" fill="url(#g0)"/>
<rect x="641.26" y="595.1" width="3.5" height="47.6" fill="url(#g1)"/>
<rect x="644.76" y="566.1" width="3.5" height="76.6" fill="url(#g2)"/>
<line x1="425.5" y1="561.4" x2="425.5" y2="642.7" stroke="#444" stroke-width="1"/>
<line x1="654.5" y1="561.4" x2="654.5" y2="642.7" stroke="#999" stroke-width="1"/>
<line x1="425.5" y1="561.4" x2="428.7" y2="561.4" stroke="#444" stroke-width="1"/>
<text transform="translate(414.65 565) scale(0.85 1)" text-anchor="end" font-size="11">50,000</text>
<line x1="425.5" y1="577.66" x2="428.7" y2="577.66" stroke="#444" stroke-width="1"/>
<text transform="translate(414.65 581.26) scale(0.85 1)" text-anchor="end" font-size="11">40,000</text>
<line x1="425.5" y1="593.92" x2="428.7" y2="593.92" stroke="#444" stroke-width="1"/>
<text transform="translate(414.65 597.52) scale(0.85 1)" text-anchor="end" font-size="11">30,000</text>
<line x1="425.5" y1="610.18" x2="428.7" y2="610.18" stroke="#444" stroke-width="1"/>
<text transform="translate(414.65 613.78) scale(0.85 1)" text-anchor="end" font-size="11">20,000</text>
<line x1="425.5" y1="626.44" x2="428.7" y2="626.44" stroke="#444" stroke-width="1"/>
<text transform="translate(414.65 630.04) scale(0.85 1)" text-anchor="end" font-size="11">10,000</text>
<line x1="425.5" y1="642.7" x2="428.7" y2="642.7" stroke="#444" stroke-width="1"/>
<text transform="translate(414.65 646.3) scale(0.85 1)" text-anchor="end" font-size="11">0</text>
<line x1="654.5" y1="561.4" x2="658" y2="561.4" stroke="#999" stroke-width="1"/>
<line x1="654.5" y1="573.01" x2="658" y2="573.01" stroke="#999" stroke-width="1"/>
<line x1="654.5" y1="584.63" x2="658" y2="584.63" stroke="#999" stroke-width="1"/>
<line x1="654.5" y1="596.24" x2="658" y2="596.24" stroke="#999" stroke-width="1"/>
<line x1="654.5" y1="607.86" x2="658" y2="607.86" stroke="#999" stroke-width="1"/>
<line x1="654.5" y1="619.47" x2="658" y2="619.47" stroke="#999" stroke-width="1"/>
<line x1="654.5" y1="631.09" x2="658" y2="631.09" stroke="#999" stroke-width="1"/>
<line x1="654.5" y1="642.7" x2="658" y2="642.7" stroke="#999" stroke-width="1"/>
<text transform="translate(662.8 565) scale(0.85 1)" text-anchor="start" font-size="11">35%</text>
<text transform="translate(662.8 576.61) scale(0.85 1)" text-anchor="start" font-size="11">30%</text>
<text transform="translate(662.8 588.23) scale(0.85 1)" text-anchor="start" font-size="11">25%</text>
<text transform="translate(662.8 599.84) scale(0.85 1)" text-anchor="start" font-size="11">20%</text>
<text transform="translate(662.8 611.46) scale(0.85 1)" text-anchor="start" font-size="11">15%</text>
<text transform="translate(662.8 623.07) scale(0.85 1)" text-anchor="start" font-size="11">10%</text>
<text transform="translate(662.8 634.69) scale(0.85 1)" text-anchor="start" font-size="11">5%</text>
<text transform="translate(662.8 646.3) scale(0.85 1)" text-anchor="start" font-size="11">0%</text>
<line x1="425.85" y1="642.7" x2="654.8" y2="642.7" stroke="#999" stroke-width="1.2"/>
<line x1="444.5" y1="639.7" x2="444.5" y2="642.7" stroke="#999" stroke-width="1"/>
<line x1="463.5" y1="639.7" x2="463.5" y2="642.7" stroke="#999" stroke-width="1"/>
<line x1="482.5" y1="639.7" x2="482.5" y2="642.7" stroke="#999" stroke-width="1"/>
<line x1="502.5" y1="639.7" x2="502.5" y2="642.7" stroke="#999" stroke-width="1"/>
<line x1="521.5" y1="639.7" x2="521.5" y2="642.7" stroke="#999" stroke-width="1"/>
<line x1="540.5" y1="639.7" x2="540.5" y2="642.7" stroke="#999" stroke-width="1"/>
<line x1="559.5" y1="639.7" x2="559.5" y2="642.7" stroke="#999" stroke-width="1"/>
<line x1="578.5" y1="639.7" x2="578.5" y2="642.7" stroke="#999" stroke-width="1"/>
<line x1="597.5" y1="639.7" x2="597.5" y2="642.7" stroke="#999" stroke-width="1"/>
<line x1="616.5" y1="639.7" x2="616.5" y2="642.7" stroke="#999" stroke-width="1"/>
<line x1="635.5" y1="639.7" x2="635.5" y2="642.7" stroke="#999" stroke-width="1"/>
<text transform="translate(436.77 655) rotate(-45) scale(0.85 1)" text-anchor="end" font-size="10.12">01-01</text>
<text transform="translate(455.81 655) rotate(-45) scale(0.85 1)" text-anchor="end" font-size="10.12">02-01</text>
<text transform="translate(474.84 655) rotate(-45) scale(0.85 1)" text-anchor="end" font-size="10.12">03-01</text>
<text transform="translate(493.88 655) rotate(-45) scale(0.85 1)" text-anchor="end" font-size="10.12">04-01</text>
<text transform="translate(512.92 655) rotate(-45) scale(0.85 1)" text-anchor="end" font-size="10.12">05-01</text>
<text transform="translate(531.96 655) rotate(-45) scale(0.85 1)" text-anchor="end" font-size="10.12">06-01</text>
<text transform="translate(550.99 655) rotate(-45) scale(0.85 1)" text-anchor="end" font-size="10.12">07-01</text>
<text transform="translate(570.03 655) rotate(-45) scale(0.85 1)" text-anchor="end" font-size="10.12">08-01</text>
<text transform="translate(589.07 655) rotate(-45) scale(0.85 1)" text-anchor="end" font-size="10.12">09-01</text>
<text transform="translate(608.11 655) rotate(-45) scale(0.85 1)" text-anchor="end" font-size="10.12">10-01</text>
<text transform="translate(627.14 655) rotate(-45) scale(0.85 1)" text-anchor="end" font-size="10.12">11-01</text>
<text transform="translate(646.18 655) rotate(-45) scale(0.85 1)" text-anchor="end" font-size="10.12">12-01</text>
<polyline points="435.37,574.2 454.41,589.3 473.44,610.7 492.48,612.7 511.52,613.8 530.56,613.8 549.59,611.8" fill="none" stroke="#ff0a14" stroke-width="2" stroke-linejoin="round" stroke-linecap="round"/>
<rect x="402.3" y="687.6" width="23.2" height="4.8" fill="#a5845c"/>
<text transform="translate(427.8 693.8) scale(0.85 1)" text-anchor="start" font-size="11">2021</text>
<rect x="491.8" y="687.6" width="23.2" height="4.8" fill="#d8c6a0"/>
<text transform="translate(517.3 693.8) scale(0.85 1)" text-anchor="start" font-size="11">2022</text>
<rect x="582.3" y="687.6" width="22.6" height="4.8" fill="#f4b73a"/>
<text transform="translate(607.2 693.8) scale(0.85 1)" text-anchor="start" font-size="11">2023</text><rect x="402.3" y="706.2" width="23.2" height="4.8" fill="#f4920c"/>
<text transform="translate(427.8 712.4) scale(0.85 1)" text-anchor="start" font-size="11">2024</text>
<line x1="491.8" y1="708.6" x2="515.8" y2="708.6" stroke="#ff0a14" stroke-width="2"/>
<text transform="translate(518.1 712.4) scale(0.85 1)" text-anchor="start" font-size="11">2024<tspan class="k" font-size="10.6" dx="1.5" letter-spacing="1.4">当月同比</tspan></text>
</svg>

<div class="hr" style="left:42px;top:960.9px;width:641px;height:2.7px;transform-origin:0 50%;transform:rotate(0.118deg);"></div>
<div class="abs pg" style="left:352.5px;top:968px;">4 / 9</div>
<div class="abs ft" style="left:462px;top:969.2px;"><span class="k">请务必阅读正文之后的信息披露和法律声明</span></div>
</body>
</html>
